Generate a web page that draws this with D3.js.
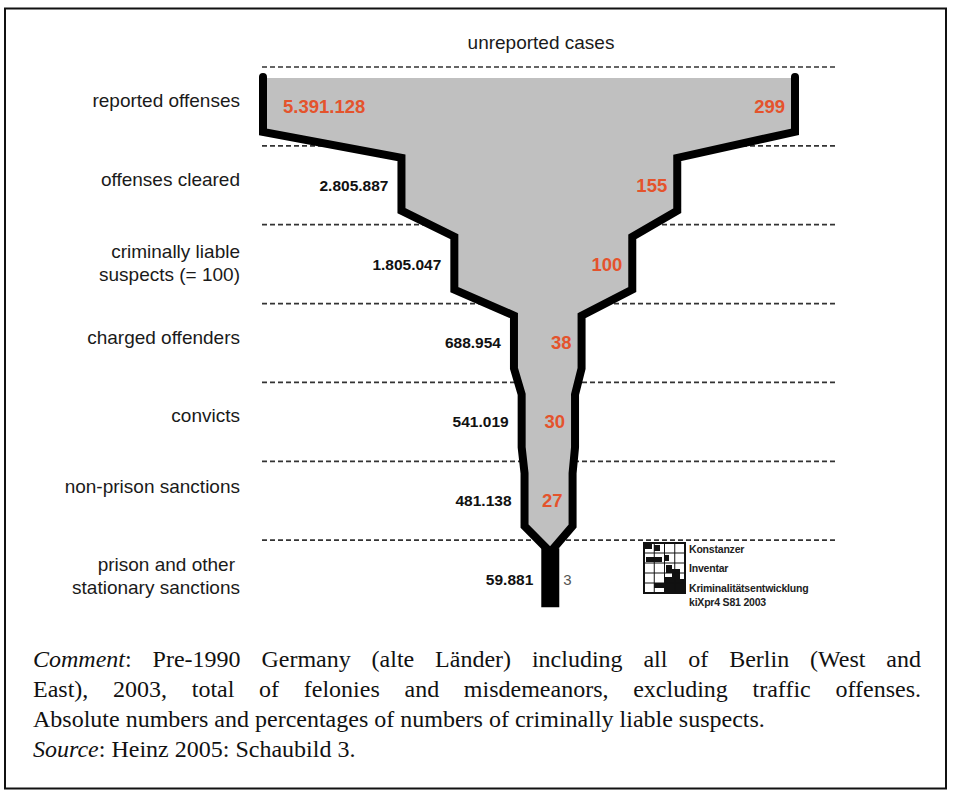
<!DOCTYPE html>
<html><head><meta charset="utf-8">
<script src="https://cdn.jsdelivr.net/npm/d3@7"></script>
<style>body{margin:0;background:#fff}svg{display:block}</style>
</head><body>
<script>
// ---------- data ----------
const stageLabels = [
  ["reported offenses"],
  ["offenses cleared"],
  ["criminally liable", "suspects (= 100)"],
  ["charged offenders"],
  ["convicts"],
  ["non-prison sanctions"],
  ["prison and other", "stationary sanctions"]
];
const absoluteCounts = [5391128, 2805887, 1805047, 688954, 541019, 481138, 59881];
const percentOfSuspects = [299, 155, 100, 38, 30, 27, 3];
const topLabel = "unreported cases";
const logoLines = ["Konstanzer", "Inventar", "Kriminalitätsentwicklung", "kiXpr4  S81 2003"];
const commentLines = [
  "*Comment*: Pre-1990 Germany (alte Länder) including all of Berlin (West and",
  "East), 2003, total of felonies and misdemeanors, excluding traffic offenses.",
  "Absolute numbers and percentages of numbers of criminally liable suspects.",
  "*Source*: Heinz 2005: Schaubild 3."
];
const justifyLine = [true, true, false, false];

// ---------- layout ----------
const W = 954, H = 796;
const sans = "'Liberation Sans', Arial, Helvetica, sans-serif";
const serif = "'Liberation Serif', 'Times New Roman', serif";
const orange = "#e4532c";

const svg = d3.select("body").append("svg").attr("width", W).attr("height", H);
svg.append("rect").attr("x", 5).attr("y", 8.5).attr("width", 941).attr("height", 780)
  .attr("fill", "none").attr("stroke", "#111").attr("stroke-width", 2);

const n = percentOfSuspects.length;
const y = d3.scaleBand().domain(d3.range(n)).range([67, 619]);
const bw = y.bandwidth();
const width = d3.scaleLinear().domain([0, 299]).range([0, 532]);
const center = d3.scaleLinear().domain([0, 299]).range([550.5, 529]);
const xL = p => center(p) - width(p) / 2;
const xR = p => center(p) + width(p) / 2;
const fmt = d3.formatLocale({decimal: ",", thousands: ".", grouping: [3], currency: ["", "€"]}).format(",d");

// title
svg.append("text").attr("x", 541).attr("y", 42).attr("dy", "0.35em")
  .attr("text-anchor", "middle").attr("font-family", sans).attr("font-size", 19)
  .attr("fill", "#1a1a1a").text(topLabel);

// dashed separators
const gridX1 = xL(percentOfSuspects[0]) - 1, gridX2 = 836;
svg.selectAll("line.grid").data(d3.range(n)).join("line").attr("class", "grid")
  .attr("x1", gridX1).attr("x2", gridX2)
  .attr("y1", i => y(i)).attr("y2", i => y(i))
  .attr("stroke", "#333").attr("stroke-width", 1.7).attr("stroke-dasharray", "5,3");

// funnel geometry
const topY = y(0) + 10, before = 14, after = 12;
const left = [], right = [];
for (let i = 0; i < n - 1; i++) {
  const p = percentOfSuspects[i];
  const y0 = i === 0 ? topY : y(i) + after;
  const y1 = y(i + 1) - before;
  left.push([xL(p), y0], [xL(p), y1]);
  right.push([xR(p), y0], [xR(p), y1]);
}
const tip = [center(percentOfSuspects[n - 1]), y(n - 1) + after];
const line = d3.line();

svg.append("path")
  .attr("d", line([[left[0][0], topY + 1], ...left.slice(1), tip, ...right.slice(1).reverse(), [right[0][0], topY + 1]]) + "Z")
  .attr("fill", "#c0c0c0");

[left, right].forEach(side => {
  svg.append("path").attr("d", line([...side, tip]))
    .attr("fill", "none").attr("stroke", "#000").attr("stroke-width", 8)
    .attr("stroke-linejoin", "miter").attr("stroke-linecap", "round");
});
svg.append("line").attr("x1", tip[0]).attr("x2", tip[0])
  .attr("y1", tip[1] - 4).attr("y2", y(n - 1) + bw * 0.85)
  .attr("stroke", "#000").attr("stroke-width", 18);

// stage labels (left)
const labelNudge = [-6, -6, -1, -6, -7, -14, -4];
const labelG = svg.append("g").attr("font-family", sans).attr("font-size", 19).attr("fill", "#1a1a1a");
stageLabels.forEach((lines, i) => {
  const cy = y(i) + bw / 2 + labelNudge[i];
  const t = labelG.append("text").attr("text-anchor", "end");
  lines.forEach((s, k) => {
    t.append("tspan").attr("x", 240 - (lines.length > 1 && k === 0 && i === n - 1 ? 5 : 0))
      .attr("y", cy + (k - (lines.length - 1) / 2) * 23).attr("dy", "0.35em").text(s);
  });
});

// absolute numbers
absoluteCounts.forEach((v, i) => {
  const p = percentOfSuspects[i];
  const cy = y(i) + bw / 2;
  const t = svg.append("text").attr("y", cy).attr("dy", "0.35em")
    .attr("font-family", sans).attr("font-weight", "bold").text(fmt(v));
  if (i === 0) {
    t.attr("x", xL(p) + 20).attr("text-anchor", "start").attr("fill", orange).attr("font-size", 18.5);
  } else if (i === n - 1) {
    t.attr("x", tip[0] - 17).attr("text-anchor", "end").attr("fill", "#111").attr("font-size", 15.5);
  } else {
    t.attr("x", xL(p) - 13).attr("text-anchor", "end").attr("fill", "#111").attr("font-size", 15.5);
  }
});

// percentages
percentOfSuspects.forEach((p, i) => {
  const cy = y(i) + bw / 2;
  const t = svg.append("text").attr("y", cy).attr("dy", "0.35em").attr("font-family", sans).text(p);
  if (i === n - 1) {
    t.attr("x", tip[0] + 13).attr("text-anchor", "start").attr("fill", "#555").attr("font-size", 15);
  } else {
    t.attr("x", xR(p) - 10).attr("text-anchor", "end").attr("fill", orange)
      .attr("font-weight", "bold").attr("font-size", 18.5);
  }
});

// logo
const logo = svg.append("g").attr("transform", "translate(644,543)");
const lw = 41, lh = 50;
[[0,0,8,6],[10,2,6,6],[2,14,16,5],[20,12,5,6],[22,22,6,8],[28,26,8,24],[20,34,8,16],[10,40,10,5],[33,36,8,14]]
  .forEach(r => logo.append("rect").attr("x", r[0]).attr("y", r[1]).attr("width", r[2]).attr("height", r[3]).attr("fill", "#111"));
d3.range(1, 4).forEach(k => logo.append("line").attr("x1", k * lw / 4).attr("x2", k * lw / 4).attr("y1", 0).attr("y2", lh).attr("stroke", "#111").attr("stroke-width", 1));
d3.range(1, 5).forEach(k => logo.append("line").attr("x1", 0).attr("x2", lw).attr("y1", k * lh / 5).attr("y2", k * lh / 5).attr("stroke", "#111").attr("stroke-width", 1));
logo.append("rect").attr("width", lw).attr("height", lh).attr("fill", "none").attr("stroke", "#111").attr("stroke-width", 2);
const logoY = [6, 25, 45, 59];
logoLines.forEach((s, k) => {
  logo.append("text").attr("x", 45).attr("y", logoY[k]).attr("dy", "0.35em")
    .attr("font-family", sans).attr("font-size", 10.5).attr("fill", "#222").attr("font-weight", "bold")
    .attr("letter-spacing", -0.2).text(s);
});

// comment block (justified)
const cx0 = 33, cx1 = 921, base0 = 667, lineGap = 30, fs = 24;
function parse(word) {
  const parts = [];
  word.split(/(\*[^*]+\*)/).filter(s => s.length).forEach(s => {
    if (s.startsWith("*")) parts.push({t: s.slice(1, -1), it: true});
    else parts.push({t: s, it: false});
  });
  return parts;
}
const measure = svg.append("text").attr("font-family", serif).attr("font-size", fs).attr("visibility", "hidden");
function wordWidth(parts) {
  measure.selectAll("*").remove();
  parts.forEach(p => measure.append("tspan").attr("font-style", p.it ? "italic" : "normal").text(p.t));
  return measure.node().getComputedTextLength();
}
commentLines.forEach((ln, li) => {
  const words = ln.split(" ").map(parse);
  const widths = words.map(wordWidth);
  const total = d3.sum(widths);
  const spaceW = wordWidth([{t: "a a", it: false}]) - wordWidth([{t: "aa", it: false}]);
  const gap = justifyLine[li] ? (cx1 - cx0 - total) / (words.length - 1) : spaceW;
  const t = svg.append("text").attr("y", base0 + li * lineGap)
    .attr("font-family", serif).attr("font-size", fs).attr("fill", "#111");
  let x = cx0;
  words.forEach((parts, wi) => {
    parts.forEach((p, pi) => {
      const ts = t.append("tspan").attr("font-style", p.it ? "italic" : "normal").text(p.t);
      if (pi === 0) ts.attr("x", x);
    });
    x += widths[wi] + gap;
  });
});
measure.remove();
</script>
</body></html>
